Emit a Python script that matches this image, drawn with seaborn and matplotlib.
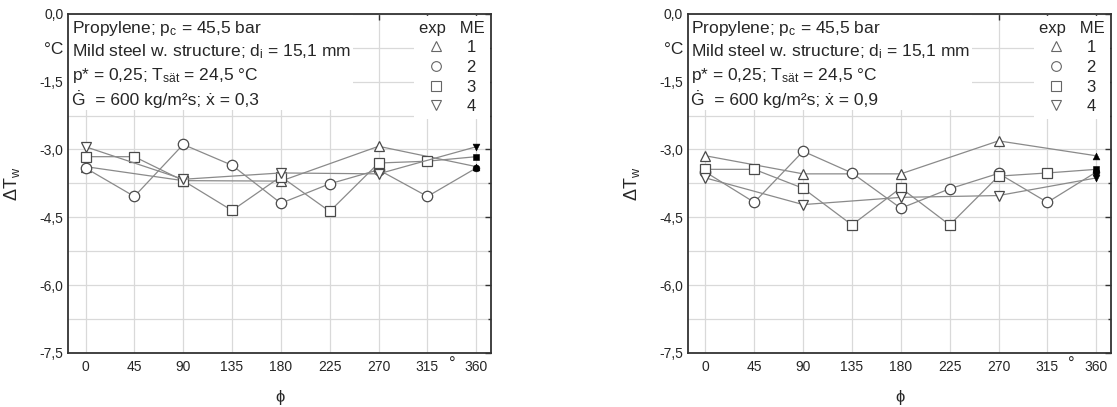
import matplotlib
matplotlib.use("Agg")
import matplotlib.pyplot as plt
from matplotlib.lines import Line2D
from matplotlib.ticker import FuncFormatter
import seaborn as sns

# Umfangswinkel
phi_full = [0, 45, 90, 135, 180, 225, 270, 315, 360]
phi_part = [0, 90, 180, 270, 360]

# x = 0,3  (ME1 .. ME4)
me1_a = [-3.38, -3.69, -3.70, -2.93, -3.38]
me2_a = [-3.41, -4.04, -2.89, -3.35, -4.19, -3.76, -3.45, -4.04, -3.41]
me3_a = [-3.16, -3.16, -3.69, -4.35, -3.60, -4.37, -3.30, -3.26, -3.16]
me4_a = [-2.94, -3.66, -3.52, -3.54, -2.94]

# x = 0,9
me1_b = [-3.14, -3.54, -3.54, -2.81, -3.14]
me2_b = [-3.50, -4.17, -3.04, -3.52, -4.30, -3.87, -3.53, -4.17, -3.50]
me3_b = [-3.44, -3.44, -3.86, -4.67, -3.85, -4.67, -3.59, -3.52, -3.44]
me4_b = [-3.63, -4.22, -4.06, -4.02, -3.63]

me_labels = ['1', '2', '3', '4']
me_markers = ['^', 'o', 's', 'v']

y_major = [0.0, -1.5, -3.0, -4.5, -6.0, -7.5]
y_minor = [-0.75, -2.25, -3.75, -5.25, -6.75]
x_ticks = [0, 45, 90, 135, 180, 225, 270, 315, 360]

info_a = ["Propylene; p$_\\mathrm{c}$ = 45,5 bar",
          "Mild steel w. structure; d$_\\mathrm{i}$ = 15,1 mm",
          "p* = 0,25; T$_\\mathrm{s\u00e4t}$ = 24,5 \u00b0C",
          "\u0120  = 600 kg/m\u00b2s; \u1e8b = 0,3"]
info_b = info_a[:3] + ["\u0120  = 600 kg/m\u00b2s; \u1e8b = 0,9"]

sns.set_theme(style="white")
plt.rcParams['font.family'] = ['Liberation Sans', 'DejaVu Sans']
plt.rcParams['mathtext.fontset'] = 'custom'
plt.rcParams['mathtext.rm'] = 'Liberation Sans'
plt.rcParams['mathtext.it'] = 'Liberation Sans:italic'
plt.rcParams['mathtext.bf'] = 'Liberation Sans:bold'

LINE = '#8a8a8a'
EDGE = '#4a4a4a'
GRID = '#d9d9d9'

fig = plt.figure(figsize=(11.17, 4.07), dpi=100)
ax1 = fig.add_axes([0.061, 0.133, 0.379, 0.833])
ax2 = fig.add_axes([0.616, 0.133, 0.379, 0.833])


def panel(ax, series, info):
    for (x, y), m in zip(series, me_markers):
        sns.lineplot(x=x, y=y, ax=ax, color=LINE, lw=0.9, marker=m, ms=7.5,
                     mfc='white', mec=EDGE, mew=0.9, markevery=list(range(len(x) - 1)),
                     sort=False, estimator=None, zorder=3)
        # 360° = Wiederholung von 0°, gefuellt
        sns.scatterplot(x=x[-1:], y=y[-1:], ax=ax, marker=m, color='black',
                        edgecolor='black', s=24, zorder=4)

    ax.set_xlim(-16, 374)
    ax.set_ylim(-7.5, 0)
    ax.set_xticks(x_ticks)
    ax.set_xticks([337.5], minor=True)
    ax.set_xticklabels([str(v) for v in x_ticks], fontsize=10)
    ax.set_xticklabels(['\u00b0'], minor=True, fontsize=12)
    ax.set_yticks(y_major)
    ax.set_yticks(y_minor, minor=True)
    ax.yaxis.set_major_formatter(FuncFormatter(lambda v, p: f"{v:.1f}".replace('.', ',')))
    ax.set_yticklabels(['\u00b0C', '', '', '', ''], minor=True, fontsize=12.5)
    for lab in ax.get_yticklabels():
        lab.set_fontsize(10)

    ax.tick_params(which='both', direction='in', top=True, right=True, color='#333333')
    ax.tick_params(which='major', length=4, width=1)
    ax.tick_params(which='minor', length=2.5, width=1)
    ax.tick_params(axis='x', which='minor', length=0, pad=3)
    ax.tick_params(axis='x', which='major', pad=5)

    ax.grid(False)
    ax.yaxis.grid(True, which='both', color=GRID, lw=0.9)
    ax.xaxis.grid(True, which='major', color=GRID, lw=0.9)
    ax.set_axisbelow(True)
    for s in ax.spines.values():
        s.set_color('#333333')
        s.set_linewidth(1.3)

    ax.set_ylabel('\u0394T$_\\mathrm{w}$', fontsize=13)
    ax.yaxis.set_label_coords(-0.11, 0.5)
    ax.set_xlabel('\u03d5', fontsize=12)
    ax.xaxis.set_label_coords(0.5, -0.11)

    ax.text(0.008, 0.985, "\n".join(info), transform=ax.transAxes, ha='left', va='top',
            fontsize=12.5, linespacing=1.33, zorder=6,
            bbox=dict(facecolor='white', edgecolor='none', pad=1.5))

    handles = [Line2D([], [], ls='none', marker=m, ms=7, mfc='white', mec='#666666', mew=0.8)
               for m in me_markers]
    leg = ax.legend(handles, me_labels, title='exp   ME', loc='upper right', fontsize=12,
                    title_fontsize=12, frameon=True, fancybox=False, framealpha=1,
                    borderaxespad=0.1, handlelength=1.0, handletextpad=1.3,
                    labelspacing=0.28, borderpad=0.3)
    leg.get_frame().set_linewidth(0)
    leg.set_zorder(7)


panel(ax1, [(phi_part, me1_a), (phi_full, me2_a), (phi_full, me3_a), (phi_part, me4_a)], info_a)
panel(ax2, [(phi_part, me1_b), (phi_full, me2_b), (phi_full, me3_b), (phi_part, me4_b)], info_b)

fig.savefig('out.png', dpi=100)
